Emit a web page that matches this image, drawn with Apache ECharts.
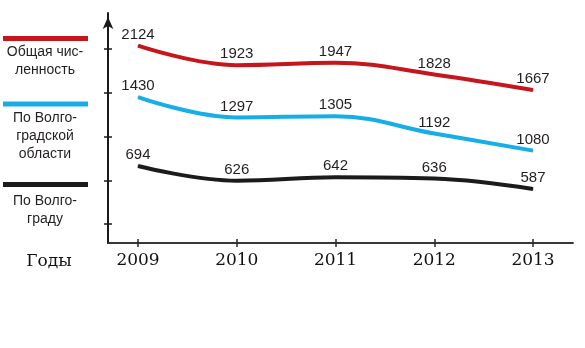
<!DOCTYPE html>
<html>
<head>
<meta charset="utf-8">
<script src="https://cdn.jsdelivr.net/npm/echarts@6/dist/echarts.min.js"></script>
<style>
  html, body { margin: 0; padding: 0; background: #fff; }
  #chart { width: 585px; height: 348px; }
</style>
</head>
<body>
<div id="chart"></div>
<script>
// Population by year (thousands)
const years = [2009, 2010, 2011, 2012, 2013];
const totalPop = [2124, 1923, 1947, 1828, 1667];
const regionPop = [1430, 1297, 1305, 1192, 1080];
const cityPop = [694, 626, 642, 636, 587];

const seriesNames = ['Общая численность', 'По Волгоградской области', 'По Волгограду'];
const legendLines = [
  ['Общая чис-', 'ленность'],
  ['По Волго-', 'градской', 'области'],
  ['По Волго-', 'граду']
];
const axisTitle = 'Годы';

const colors = ['#c4161c', '#17aee8', '#1b1b1b'];
const textColor = '#231f20';
const serifFont = '"DejaVu Serif", serif';
const sansFont = '"Liberation Sans", Arial, sans-serif';

const chart = echarts.init(document.getElementById('chart'), null, { renderer: 'canvas' });

function pairs(vals) {
  return vals.map((v, i) => [years[i], v]);
}

// Each series sits in its own vertical band, so each gets its own hidden value axis
const bandRanges = [[93, 2460], [476, 1980], [336, 1406]];

const xCommon = {
  type: 'value',
  position: 'bottom',
  min: 2008.696,
  max: 2013.405,
  splitLine: { show: false },
  axisLine: { show: true, onZero: false, lineStyle: { color: '#2a2a2a', width: 1.5 } }
};

const legendGraphics = [];
const barTops = [36, 101.5, 182];
const textTops = [43, 109, 192];
legendLines.forEach((lines, i) => {
  legendGraphics.push({
    type: 'rect',
    shape: { x: 3, y: barTops[i], width: 85, height: 5 },
    style: { fill: colors[i] }
  });
  legendGraphics.push({
    type: 'text',
    x: 45,
    y: textTops[i],
    style: {
      text: lines.join('\n'),
      fill: textColor,
      font: '14px ' + sansFont,
      align: 'center',
      verticalAlign: 'top',
      lineHeight: 18
    }
  });
});
legendGraphics.push({
  type: 'text',
  x: 49,
  y: 262,
  style: {
    text: axisTitle,
    fill: '#111',
    font: '17px ' + serifFont,
    align: 'center',
    verticalAlign: 'middle'
  }
});

const tickMin = -0.434;
const tickMax = 4.823;

const option = {
  animation: false,
  backgroundColor: '#fff',
  grid: { left: 108, right: 12, top: 13, bottom: 105 },
  xAxis: [
    Object.assign({}, xCommon, {
      axisTick: { show: true, length: 4, customValues: years, lineStyle: { color: '#2a2a2a', width: 1.5 } },
      axisLabel: {
        show: true,
        customValues: years,
        margin: 9,
        color: '#111',
        fontFamily: serifFont,
        fontSize: 17,
        formatter: v => String(v)
      }
    }),
    Object.assign({}, xCommon, {
      axisTick: { show: true, inside: true, length: 4, customValues: years, lineStyle: { color: '#2a2a2a', width: 1.5 } },
      axisLabel: { show: false }
    })
  ],
  yAxis: [
    {
      type: 'value',
      min: tickMin,
      max: tickMax,
      position: 'left',
      splitLine: { show: false },
      axisLine: {
        show: true,
        onZero: false,
        symbol: ['none', 'arrow'],
        symbolSize: [8, 12],
        symbolOffset: [0, -4],
        lineStyle: { color: '#1a1a1a', width: 2 }
      },
      axisTick: { show: true, length: 4, customValues: [0, 1, 2, 3, 4], lineStyle: { color: '#1a1a1a', width: 1.5 } },
      axisLabel: { show: false }
    },
    {
      type: 'value',
      min: tickMin,
      max: tickMax,
      position: 'left',
      splitLine: { show: false },
      axisLine: { show: false, onZero: false },
      axisTick: { show: true, inside: true, length: 4, customValues: [0, 1, 2, 3, 4], lineStyle: { color: '#1a1a1a', width: 1.5 } },
      axisLabel: { show: false }
    }
  ].concat(bandRanges.map(r => ({
    type: 'value', min: r[0], max: r[1], show: false, splitLine: { show: false }
  }))),
  graphic: legendGraphics,
  series: [totalPop, regionPop, cityPop].map((vals, i) => ({
    name: seriesNames[i],
    type: 'line',
    xAxisIndex: 0,
    yAxisIndex: 2 + i,
    data: pairs(vals),
    smooth: 0.4,
    symbol: 'circle',
    symbolSize: 1,
    itemStyle: { color: colors[i] },
    lineStyle: { color: colors[i], width: 4 },
    label: {
      show: true,
      position: 'top',
      distance: 3,
      color: textColor,
      fontFamily: sansFont,
      fontSize: 15,
      formatter: p => String(p.value[1])
    }
  }))
};

chart.setOption(option);
</script>
</body>
</html>
